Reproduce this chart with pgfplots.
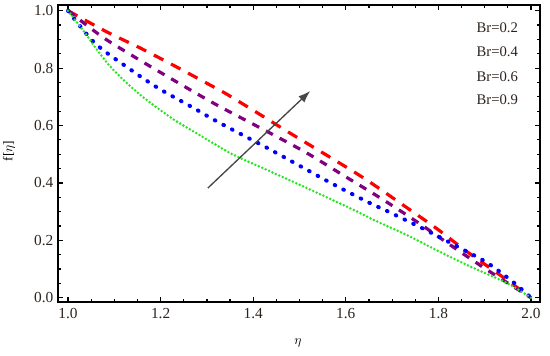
\documentclass[border=0pt]{standalone}
\usepackage{fontspec}
\setmainfont{Liberation Serif}
\usepackage{pgfplots}
\pgfplotsset{compat=1.18}
\usetikzlibrary{arrows.meta}
\definecolor{cred}{RGB}{255,0,0}
\definecolor{cpurple}{RGB}{128,0,128}
\definecolor{cblue}{RGB}{0,0,255}
\definecolor{cgreen}{RGB}{40,230,30}
\definecolor{ctxt}{RGB}{45,35,30}
\definecolor{carrow}{RGB}{70,70,70}

\begin{document}
\begin{tikzpicture}
\begin{axis}[
  scale only axis, width=361.5pt, height=222.75pt,
  xmin=0.9784, xmax=2.0194, ymin=-0.015, ymax=1.0199,
  xtick={1.0,1.2,1.4,1.6,1.8,2.0},
  ytick={0.0,0.2,0.4,0.6,0.8,1.0},
  minor x tick num=3, minor y tick num=3,
  tick align=inside,
  major tick length=3.75pt, minor tick length=2.2pt,
  tick style={line width=0.9pt, black},
  axis line style={line width=1.3pt},
  /pgf/number format/.cd, fixed, fixed zerofill, precision=1, assume math mode=true,
  /pgfplots/.cd,
  tick label style={font=\fontsize{11.5}{13}\selectfont, text=ctxt},
  xticklabel style={yshift=-1.5pt},
  xlabel={$\eta$}, ylabel={f[$\eta$]},
  label style={font=\fontsize{11.5}{13}\selectfont, text=ctxt},
  every axis x label/.style={at={(rel axis cs:0.498,-0.138)}, anchor=center},
  every axis y label/.style={at={(rel axis cs:-0.1017,0.508)}, anchor=center, rotate=90},
  clip=false,
]
% Br curves (top to bottom)
\addplot[cred, line width=2.4pt, dash pattern=on 8pt off 6.5pt, smooth] coordinates {
(1.000,1.000) (1.084,0.926) (1.156,0.870) (1.231,0.807) (1.307,0.741) (1.339,0.713)
(1.410,0.643) (1.479,0.574) (1.551,0.504) (1.620,0.436) (1.659,0.395) (1.728,0.318)
(1.797,0.240) (1.862,0.160) (1.933,0.079) (2.000,0.000)};
\addplot[cpurple, line width=2.4pt, dash pattern=on 5.8pt off 5.8pt, smooth] coordinates {
(1.000,1.000) (1.040,0.950) (1.084,0.898) (1.162,0.821) (1.242,0.745) (1.322,0.671)
(1.436,0.574) (1.516,0.504) (1.594,0.427) (1.678,0.344) (1.754,0.264) (1.829,0.180)
(1.907,0.095) (2.000,0.000)};
\addplot[cblue, line width=3pt, line cap=round, dash pattern=on 0.5pt off 6.8pt, smooth] coordinates {
(1.000,1.000) (1.058,0.887) (1.127,0.804) (1.194,0.731) (1.268,0.664) (1.322,0.614)
(1.430,0.522) (1.501,0.459) (1.572,0.396) (1.648,0.333) (1.702,0.292) (1.775,0.234)
(1.847,0.173) (1.905,0.122) (1.961,0.055) (2.000,0.000)};
\addplot[cgreen, line width=2.1pt, line cap=round, dash pattern=on 0pt off 2.8pt, smooth] coordinates {
(1.000,1.000) (1.037,0.922) (1.063,0.863) (1.091,0.806) (1.127,0.748) (1.162,0.699)
(1.199,0.654) (1.235,0.614) (1.285,0.566) (1.356,0.499) (1.430,0.445) (1.501,0.393)
(1.572,0.340) (1.626,0.299) (1.659,0.272) (1.732,0.218) (1.803,0.160) (1.875,0.104)
(1.948,0.051) (2.000,0.000)};
\draw[carrow, line width=1pt, -{Latex[length=9pt,width=6.5pt]}]
  (axis cs:1.302,0.382) -- (axis cs:1.523,0.720);
\node[font=\fontsize{11}{13}\selectfont, text=ctxt] at (axis cs:1.927,0.940) {Br=0.2};
\node[font=\fontsize{11}{13}\selectfont, text=ctxt] at (axis cs:1.927,0.857) {Br=0.4};
\node[font=\fontsize{11}{13}\selectfont, text=ctxt] at (axis cs:1.927,0.771) {Br=0.6};
\node[font=\fontsize{11}{13}\selectfont, text=ctxt] at (axis cs:1.927,0.689) {Br=0.9};
\coordinate (bl) at (rel axis cs:-0.1203,-0.1785);
\coordinate (tr) at (rel axis cs:1.0207,1.0168);
\end{axis}
\pgfresetboundingbox
\useasboundingbox (bl) rectangle (tr);
\end{tikzpicture}
\end{document}
